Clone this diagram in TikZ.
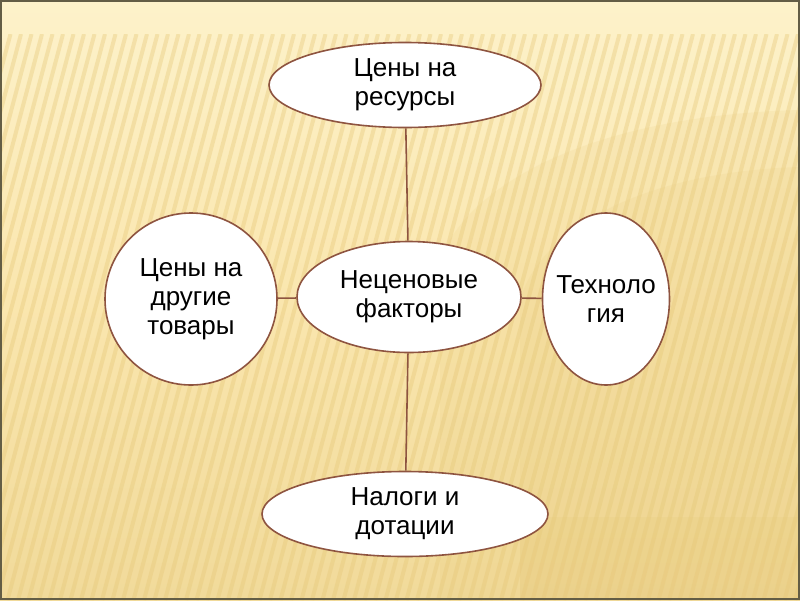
\documentclass[tikz,border=0pt]{standalone}
\usepackage{fontspec}
\setmainfont{Liberation Sans}
\usetikzlibrary{shapes.geometric}
\definecolor{bgtop}{HTML}{FDF2CA}
\definecolor{bgmid}{HTML}{FAE6AE}
\definecolor{bgbot}{HTML}{F1DA9A}
\definecolor{stripec}{HTML}{E6C878}
\definecolor{edgec}{HTML}{8E5440}
\definecolor{framec}{HTML}{635D45}
\begin{document}
\begin{tikzpicture}[x=1pt,y=-1pt,
  bubble/.style={ellipse, draw=edgec, line width=1.6pt, fill=white, inner sep=0pt,
    align=center, font=\fontsize{26}{29}\selectfont, text=black},
  link/.style={draw=edgec, line width=1.6pt}]
% background
\useasboundingbox (0,0) rectangle (800,600);
\shade[top color=bgtop, bottom color=bgbot, middle color=bgmid] (0,0) rectangle (800,600);
\begin{scope}
  \clip (0,34) rectangle (800,600);
  \foreach \i in {-5,...,95}{
    \draw[stripec, opacity=0.38, line width=4pt] (\i*10.5,34) -- (\i*10.5-150,600);
  }
\end{scope}
\fill[stripec, opacity=0.14] (800,110) .. controls (600,115) and (470,180) .. (440,260)
  -- (440,600) -- (800,600) -- cycle;
\fill[stripec, opacity=0.14] (800,167) .. controls (640,172) and (540,230) .. (520,300)
  -- (520,600) -- (800,600) -- cycle;
\fill[stripec, opacity=0.2] (520,517) rectangle (800,600);
\draw[framec, line width=2pt] (1,1) rectangle (799,599);
% nodes
\node[bubble, minimum width=272pt, minimum height=85pt] (res) at (405,85) {Цены на\\ресурсы};
\node[bubble, minimum width=224pt, minimum height=111pt] (ctr) at (409,297) {Неценовые\\факторы};
\node[bubble, minimum width=172pt, minimum height=172pt] (oth) at (191,299) {Цены на\\другие\\товары};
\node[bubble, inner xsep=-10pt, minimum width=127pt, minimum height=172pt] (tech) at (606,299) {Техноло\\гия};
\node[bubble, minimum width=286pt, minimum height=85pt] (tax) at (405,514) {Налоги и\\дотации};
% links
\draw[link] (res) -- (ctr);
\draw[link] (ctr) -- (tax);
\draw[link] (oth) -- (ctr);
\draw[link] (ctr) -- (tech);
\end{tikzpicture}
\end{document}
